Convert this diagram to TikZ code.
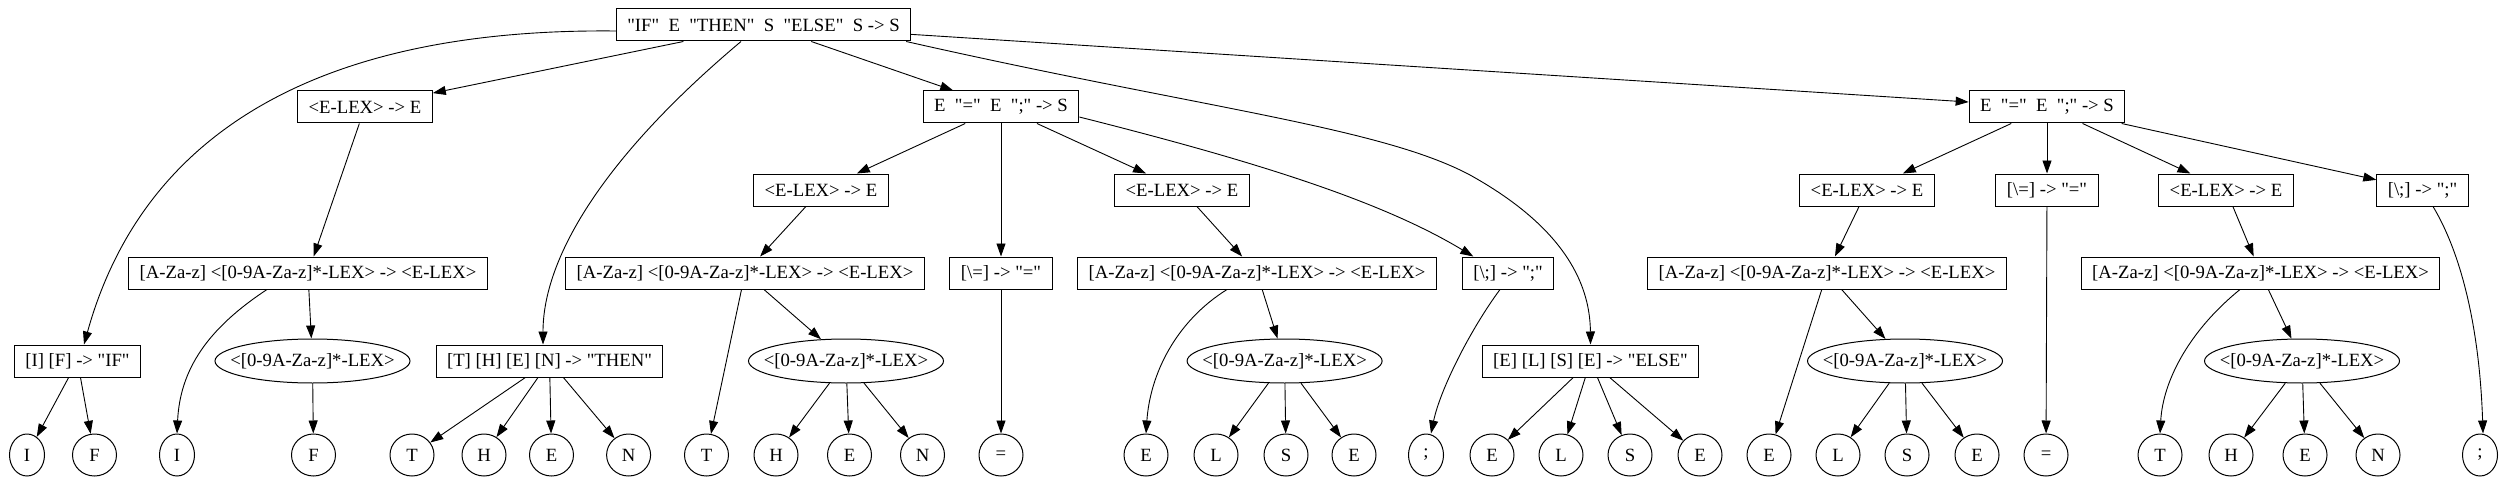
\documentclass[tikz,border=0pt]{standalone}
\usepackage{fontspec}
\setmainfont{Liberation Serif}[Ligatures=TeXOff]
\usetikzlibrary{arrows.meta,shapes.geometric}
\newcommand\ctrtext[1]{\makebox[0pt]{#1}}
\begin{document}
\begin{tikzpicture}[x=1pt,y=-1pt,
  every node/.style={font=\fontsize{18.7}{22}\selectfont},
  box/.style={draw, rectangle, line width=1pt, minimum height=32pt, inner xsep=11pt, inner ysep=0pt},
  bigell/.style={draw, ellipse, line width=1pt, minimum width=195pt, minimum height=44pt, inner sep=0pt},
  leaf/.style={draw, ellipse, line width=1pt, minimum width=44pt, minimum height=42pt, inner sep=0pt},
  narrowleaf/.style={leaf, minimum width=35pt},
  conn/.style={draw, line width=0.9pt, -{Triangle[length=13pt,width=9pt]}}]
\useasboundingbox (0,0) rectangle (2510,484);
% row 0
\node[box] (root) at (763.5,25) {"IF"~~E~~"THEN"~~S~~"ELSE"~~S -> S};
% row 1
\node[box] (a1) at (365,107) {<E-LEX> -> E};
\node[box] (b) at (1001,107) {E~~"="~~E~~";" -> S};
\node[box] (c) at (2047,107) {E~~"="~~E~~";" -> S};
% row 2
\node[box] (b1) at (821,190) {<E-LEX> -> E};
\node[box] (b3) at (1182,190) {<E-LEX> -> E};
\node[box] (c1) at (1867,190) {<E-LEX> -> E};
\node[box] (c2) at (2047,190) {[\textbackslash=] -> "="};
\node[box] (c3) at (2226,190) {<E-LEX> -> E};
\node[box] (c4) at (2422.5,190) {[\textbackslash;] -> ";"};
% row 3
\node[box] (a2) at (308,273) {[A-Za-z] <[0-9A-Za-z]*-LEX> -> <E-LEX>};
\node[box] (b1a) at (745,273) {[A-Za-z] <[0-9A-Za-z]*-LEX> -> <E-LEX>};
\node[box] (b2) at (1001,273) {[\textbackslash=] -> "="};
\node[box] (b3a) at (1257,273) {[A-Za-z] <[0-9A-Za-z]*-LEX> -> <E-LEX>};
\node[box] (b4) at (1508,273) {[\textbackslash;] -> ";"};
\node[box] (c1a) at (1827,273) {[A-Za-z] <[0-9A-Za-z]*-LEX> -> <E-LEX>};
\node[box] (c3a) at (2260.5,273) {[A-Za-z] <[0-9A-Za-z]*-LEX> -> <E-LEX>};
% row 4
\node[box] (ifb) at (77.5,361) {[I] [F] -> "IF"};
\node[bigell] (a2e) at (312.5,361) {\ctrtext{<[0-9A-Za-z]*-LEX>}};
\node[box] (thenb) at (549.5,361) {[T] [H] [E] [N] -> "THEN"};
\node[bigell] (b1e) at (846,361) {\ctrtext{<[0-9A-Za-z]*-LEX>}};
\node[bigell] (b3e) at (1284.6,361) {\ctrtext{<[0-9A-Za-z]*-LEX>}};
\node[box] (elseb) at (1590.5,361) {[E] [L] [S] [E] -> "ELSE"};
\node[bigell] (c1e) at (1905,361) {\ctrtext{<[0-9A-Za-z]*-LEX>}};
\node[bigell] (c3e) at (2302,361) {\ctrtext{<[0-9A-Za-z]*-LEX>}};
% row 5 leaves
\node[narrowleaf] (l1) at (27,455) {\ctrtext{I}};
\node[leaf] (l2) at (94.5,455) {\ctrtext{F}};
\node[narrowleaf] (l3) at (177,455) {\ctrtext{I}};
\node[leaf] (l4) at (313.5,455) {\ctrtext{F}};
\node[leaf] (l5) at (412,455) {\ctrtext{T}};
\node[leaf] (l6) at (484,455) {\ctrtext{H}};
\node[leaf] (l7) at (551.5,455) {\ctrtext{E}};
\node[leaf] (l8) at (628.6,455) {\ctrtext{N}};
\node[leaf] (l9) at (706.5,455) {\ctrtext{T}};
\node[leaf] (l10) at (776,455) {\ctrtext{H}};
\node[leaf] (l11) at (849.5,455) {\ctrtext{E}};
\node[leaf] (l12) at (922.5,455) {\ctrtext{N}};
\node[leaf] (l13) at (1001,455) {\ctrtext{=}};
\node[leaf] (l14) at (1146,455) {\ctrtext{E}};
\node[leaf] (l15) at (1216,455) {\ctrtext{L}};
\node[leaf] (l16) at (1286,455) {\ctrtext{S}};
\node[leaf] (l17) at (1354,455) {\ctrtext{E}};
\node[narrowleaf] (l18) at (1426,455) {\ctrtext{;}};
\node[leaf] (l19) at (1492,455) {\ctrtext{E}};
\node[leaf] (l20) at (1561,455) {\ctrtext{L}};
\node[leaf] (l21) at (1630,455) {\ctrtext{S}};
\node[leaf] (l22) at (1700,455) {\ctrtext{E}};
\node[leaf] (l23) at (1769,455) {\ctrtext{E}};
\node[leaf] (l24) at (1838,455) {\ctrtext{L}};
\node[leaf] (l25) at (1907,455) {\ctrtext{S}};
\node[leaf] (l26) at (1977,455) {\ctrtext{E}};
\node[leaf] (l27) at (2046,455) {\ctrtext{=}};
\node[leaf] (l28) at (2160,455) {\ctrtext{T}};
\node[leaf] (l29) at (2231,455) {\ctrtext{H}};
\node[leaf] (l30) at (2305,455) {\ctrtext{E}};
\node[leaf] (l31) at (2378,455) {\ctrtext{N}};
\node[narrowleaf] (l32) at (2480,455) {\ctrtext{;}};
% edges from root
\path[conn] ([yshift=-6pt]root.west) .. controls (330,28) and (145,125) .. ([xshift=6.5pt]ifb.north);
\path[conn] (root) -- (a1);
\path[conn] ([xshift=-22.5pt]root.south) .. controls (600,160) and (543,260) .. ([xshift=-6.5pt]thenb.north);
\path[conn] (root) -- (b);
\path[conn] ([xshift=-5pt]root.south east) .. controls (1200,108) and (1380,127) .. (1470,175) .. controls (1560,225) and (1590,280) .. (elseb.north);
\path[conn] (root) -- (c);
% left E
\path[conn] (a1) -- (a2);
\path[conn] ([xshift=-41pt]a2.south) .. controls (207,329) and (180,370) .. (l3.north);
\path[conn] (a2) -- (a2e);
\path[conn] (a2e) -- (l4);
% IF
\path[conn] (ifb) -- (l1);
\path[conn] (ifb) -- (l2);
% THEN
\path[conn] (thenb) -- (l5);
\path[conn] (thenb) -- (l6);
\path[conn] (thenb) -- (l7);
\path[conn] (thenb) -- (l8);
% middle S
\path[conn] (b) -- (b1);
\path[conn] (b) -- (b2);
\path[conn] (b) -- (b3);
\path[conn] ([yshift=-10pt]b.east) .. controls (1250,160) and (1380,200) .. ([xshift=11.5pt]b4.north west);
\path[conn] (b1) -- (b1a);
\path[conn] (b1a) -- (l9);
\path[conn] (b1a) -- (b1e);
\path[conn] (b1e) -- (l10);
\path[conn] (b1e) -- (l11);
\path[conn] (b1e) -- (l12);
\path[conn] (b2) -- (l13);
\path[conn] (b3) -- (b3a);
\path[conn] ([xshift=-30pt]b3a.south) .. controls (1175,322) and (1150,375) .. (l14.north);
\path[conn] (b3a) -- (b3e);
\path[conn] (b3e) -- (l15);
\path[conn] (b3e) -- (l16);
\path[conn] (b3e) -- (l17);
\path[conn] ([xshift=-8pt]b4.south) .. controls (1470,330) and (1440,390) .. ([xshift=5pt]l18.north);
% ELSE
\path[conn] (elseb) -- (l19);
\path[conn] (elseb) -- (l20);
\path[conn] (elseb) -- (l21);
\path[conn] (elseb) -- (l22);
% right S
\path[conn] (c) -- (c1);
\path[conn] (c) -- (c2);
\path[conn] (c) -- (c3);
\path[conn] (c) -- (c4);
\path[conn] (c1) -- (c1a);
\path[conn] (c1a) -- (l23);
\path[conn] (c1a) -- (c1e);
\path[conn] (c1e) -- (l24);
\path[conn] (c1e) -- (l25);
\path[conn] (c1e) -- (l26);
\path[conn] (c2) -- (l27);
\path[conn] (c3) -- (c3a);
\path[conn] ([xshift=-20.5pt]c3a.south) .. controls (2190,330) and (2163,380) .. (l28.north);
\path[conn] (c3a) -- (c3e);
\path[conn] (c3e) -- (l29);
\path[conn] (c3e) -- (l30);
\path[conn] (c3e) -- (l31);
\path[conn] ([xshift=10.5pt]c4.south) .. controls (2465,260) and (2480,340) .. ([xshift=3pt]l32.north);
\end{tikzpicture}
\end{document}
